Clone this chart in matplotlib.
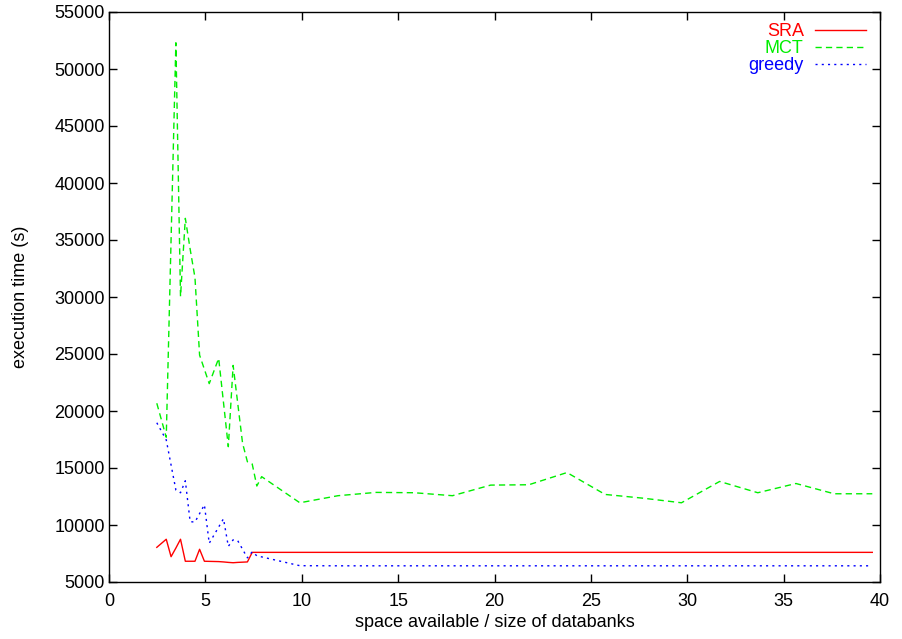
import matplotlib
matplotlib.use("Agg")
import matplotlib.pyplot as plt

# ---- data ----
sra_x = [2.48, 2.97, 3.22, 3.47, 3.71, 3.96, 4.21, 4.46, 4.70, 4.95, 5.20, 5.45, 5.69, 5.94,
         6.19, 6.44, 6.68, 6.93, 7.18, 7.43, 9.90, 11.88, 13.86, 15.84, 17.82, 19.80, 21.78,
         23.76, 25.74, 27.72, 29.70, 31.68, 33.66, 35.64, 37.62, 39.60]
sra_y = [8040, 8750, 7220, 7980, 8750, 6820, 6820, 6820, 7870, 6820, 6810, 6800, 6790, 6760,
         6720, 6690, 6720, 6740, 6760, 7600, 7600, 7600, 7600, 7600, 7600, 7600, 7600,
         7600, 7600, 7600, 7600, 7600, 7600, 7600, 7600, 7600]

mct_x = [2.48, 2.97, 3.47, 3.71, 3.96, 4.21, 4.46, 4.70, 5.20, 5.69, 6.19, 6.44, 6.93, 7.18,
         7.43, 7.67, 7.92, 9.90, 11.88, 13.86, 15.84, 17.82, 19.80, 21.78, 23.76, 25.74,
         27.72, 29.70, 31.68, 33.66, 35.64, 37.62, 39.60]
mct_y = [20680, 17700, 52300, 30050, 36900, 34200, 31700, 24900, 22400, 24620, 16870, 24000,
         17170, 15550, 15350, 13420, 14240, 11950, 12570, 12860, 12830, 12570, 13500, 13530,
         14600, 12680, 12350, 11950, 13820, 12830, 13640, 12740, 12740]

greedy_x = [2.48, 2.97, 3.47, 3.71, 3.96, 4.21, 4.46, 4.95, 5.20, 5.94, 6.19, 6.44, 6.68,
            7.18, 7.43, 7.67, 9.90, 11.88, 13.86, 15.84, 17.82, 19.80, 21.78, 23.76, 25.74,
            27.72, 29.70, 31.68, 33.66, 35.64, 37.62, 39.60]
greedy_y = [18970, 17460, 13070, 12830, 13880, 10290, 10260, 11770, 8400, 10550, 8130, 8700,
            8620, 7120, 7650, 7300, 6430, 6420, 6420, 6420, 6420, 6420, 6420, 6420, 6420,
            6420, 6420, 6420, 6420, 6420, 6420, 6420]

xticks = [0, 5, 10, 15, 20, 25, 30, 35, 40]
yticks = [5000, 10000, 15000, 20000, 25000, 30000, 35000, 40000, 45000, 50000, 55000]

plt.rcParams['font.family'] = ['Liberation Sans', 'DejaVu Sans']

fig = plt.figure(figsize=(9.03, 6.39), dpi=100)
ax = fig.add_axes([109 / 903, 57 / 639, 771 / 903, 570 / 639])

ax.plot(sra_x, sra_y, color='#ff0000', lw=1.0, label='SRA')
ax.plot(mct_x, mct_y, color='#00ee00', lw=1.0, dashes=(4.5, 3), label='MCT')
ax.plot(greedy_x, greedy_y, color='#0000ff', lw=1.0, dashes=(1.5, 3), label='greedy')

ax.set_xlim(0, 40)
ax.set_ylim(5000, 55000)
ax.set_xticks(xticks)
ax.set_yticks(yticks)
ax.set_xticklabels([str(t) for t in xticks])
ax.set_yticklabels([str(t) for t in yticks])
ax.tick_params(direction='in', length=6, width=1, top=True, right=True, labelsize=13)
ax.tick_params(axis='x', pad=8)
ax.tick_params(axis='y', pad=3)
for s in ax.spines.values():
    s.set_linewidth(1.0)

ax.set_xlabel('space available / size of databanks', fontsize=13, labelpad=3)
ax.set_ylabel('execution time (s)', fontsize=13, labelpad=18)

leg = ax.legend(loc='upper right', bbox_to_anchor=(1 - 14 / 771, 1 - 11 / 570),
                frameon=False, markerfirst=False, fontsize=13,
                handlelength=2.8, labelspacing=0.0, borderaxespad=0.0, borderpad=0.0,
                labelcolor='linecolor', handletextpad=0.65)
for t in leg.get_texts():
    t.set_ha('right')

fig.savefig('out.png', dpi=100)
